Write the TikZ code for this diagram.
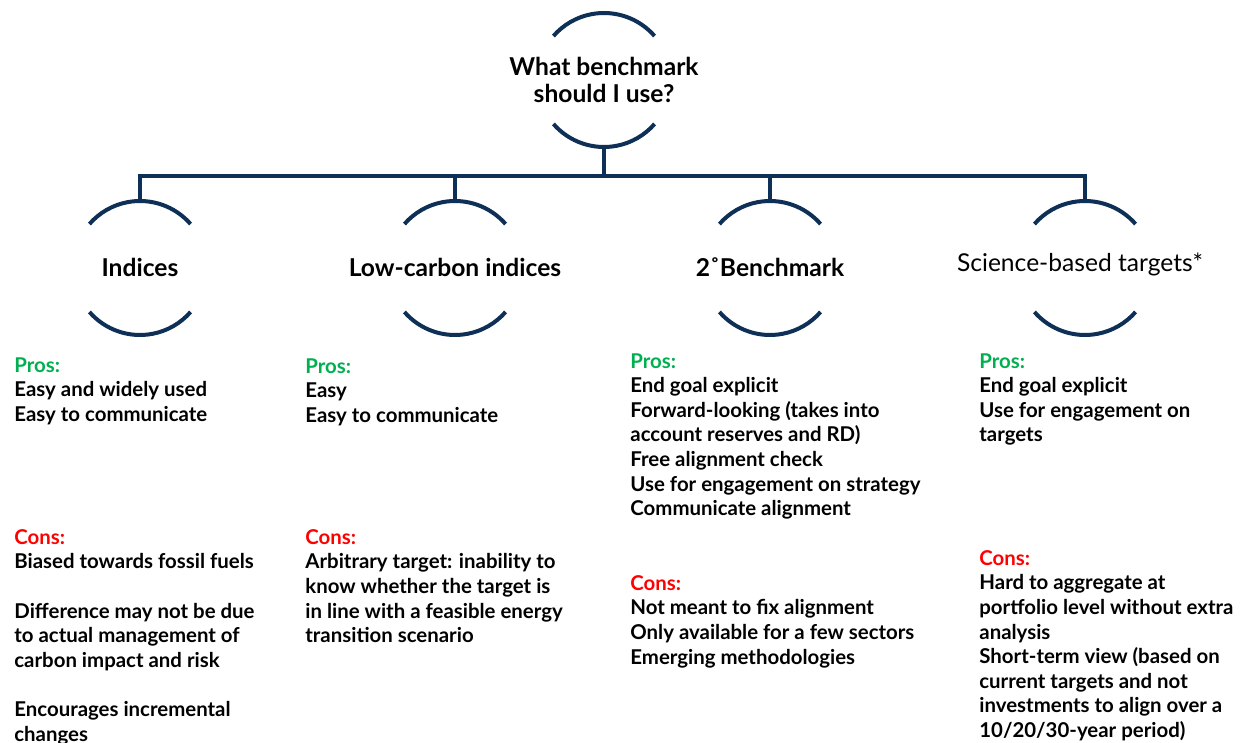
\documentclass[tikz,border=0pt]{standalone}
\usepackage{fontspec}
\setmainfont{Lato}
\usepackage{tikz}

\definecolor{navy}{HTML}{0E2F56}
\definecolor{prosgreen}{HTML}{00B050}
\definecolor{consred}{HTML}{FF0000}

\tikzset{
    ring/.style={circle, minimum size=67pt, inner sep=0pt, outer sep=0pt},
    arcline/.style={navy, line width=2pt},
    link/.style={navy, line width=2pt},
    head/.style={font=\fontsize{12.3}{13.5}\selectfont\bfseries, inner sep=0pt, anchor=base},
    notes/.style={font=\fontsize{10.2}{12.3}\selectfont\bfseries, align=left, inner sep=0pt, anchor=north west},
}

% the two half rings round a node
\newcommand{\halfrings}[1]{%
    \draw[arcline] (#1.41) arc[start angle=41, end angle=139, radius=33.5pt];
    \draw[arcline] (#1.221) arc[start angle=221, end angle=319, radius=33.5pt];}

\begin{document}
\begin{tikzpicture}[x=0.5pt, y=-0.5pt]
    \useasboundingbox (0,0) rectangle (1250,743);

    % question
    \node[ring] (quest) at (604,80) {};
    \halfrings{quest}
    \node[head, anchor=center, align=center] (quest-t) at (quest) {What benchmark\\should I use?};

    % the four choices
    \node[ring] (ind) at (140,268) {};
    \halfrings{ind}
    \node[head] (ind-t) at (140,277) {Indices};

    \node[ring] (low) at (455,268) {};
    \halfrings{low}
    \node[head] (low-t) at (455,277) {Low-carbon indices};

    \node[ring] (two) at (770,268) {};
    \halfrings{two}
    \node[head] (two-t) at (770,277) {2˚Benchmark};

    \node[ring] (sbt) at (1085,268) {};
    \halfrings{sbt}
    \node[head, font=\fontsize{12.3}{13.5}\selectfont] (sbt-t) at (1080,272) {Science-based targets*};

    % tree lines
    \coordinate (bar) at (604,176);
    \draw[link] (quest.south) -- (bar);
    \draw[link] (ind.north) -- (ind.north |- bar) -- (sbt.north |- bar) -- (sbt.north);
    \draw[link] (low.north) -- (low.north |- bar);
    \draw[link] (two.north) -- (two.north |- bar);

    % pros
    \node[notes] (ind-p) at (14,357) {\textcolor{prosgreen}{Pros:}\\Easy and widely used\\Easy to communicate};
    \node[notes] (low-p) at (305,358) {\textcolor{prosgreen}{Pros:}\\Easy\\Easy to communicate};
    \node[notes] (two-p) at (630,353) {\textcolor{prosgreen}{Pros:}\\End goal explicit\\Forward-looking (takes into\\account reserves and RD)\\Free alignment check\\Use for engagement on strategy\\Communicate alignment};
    \node[notes] (sbt-p) at (979,353) {\textcolor{prosgreen}{Pros:}\\End goal explicit\\Use for engagement on\\targets};

    % cons
    \node[notes] (ind-c) at (14,529) {\textcolor{consred}{Cons:}\\Biased towards fossil fuels\\[12.3pt]Difference may not be due\\to actual management of\\carbon impact and risk\\[12.3pt]Encourages incremental\\changes};
    \node[notes] (low-c) at (305,529) {\textcolor{consred}{Cons:}\\Arbitrary target: inability to\\know whether the target is\\in line with a feasible energy\\transition scenario};
    \node[notes] (two-c) at (630,575) {\textcolor{consred}{Cons:}\\Not meant to fix alignment\\Only available for a few sectors\\Emerging methodologies};
    \node[notes] (sbt-c) at (979,550) {\textcolor{consred}{Cons:}\\Hard to aggregate at\\portfolio level without extra\\analysis\\Short-term view (based on\\current targets and not\\investments to align over a\\10/20/30-year period)};

\end{tikzpicture}
\end{document}
